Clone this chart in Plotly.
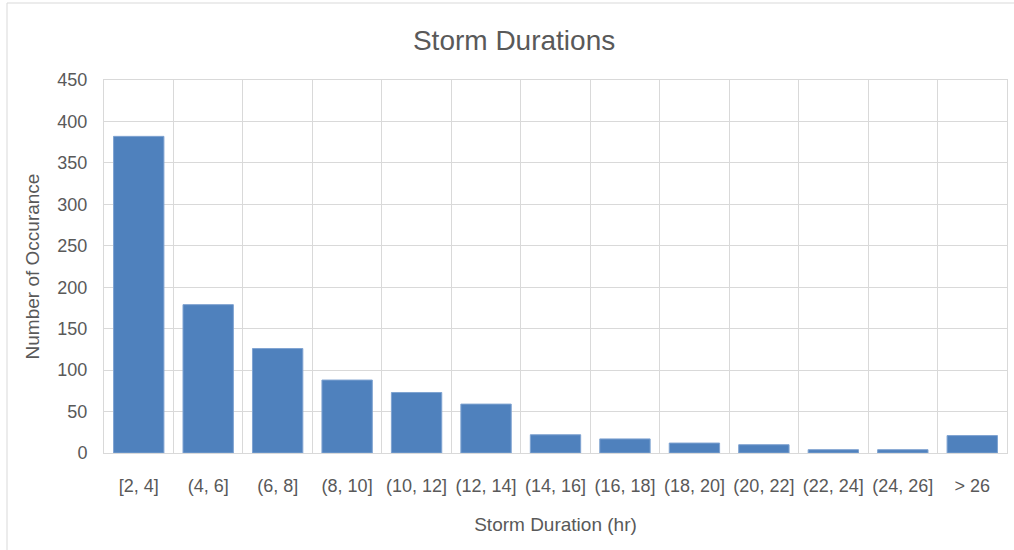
import plotly.graph_objects as go

categories = ["[2, 4]", "(4, 6]", "(6, 8]", "(8, 10]", "(10, 12]", "(12, 14]", "(14, 16]",
              "(16, 18]", "(18, 20]", "(20, 22]", "(22, 24]", "(24, 26]", "> 26"]
counts = [382, 179, 126, 88, 73, 59, 22, 17, 12, 10, 4, 4, 21]
y_ticks = [0, 50, 100, 150, 200, 250, 300, 350, 400, 450]

FONT = "Liberation Sans"
TEXT = "#595959"
GRID = "#d9d9d9"

fig = go.Figure(go.Bar(
    x=categories, y=counts,
    marker=dict(color="#4f81bd", line=dict(color="#7fa3d1", width=1)),
    hoverinfo="x+y",
))

fig.update_layout(
    width=1014, height=550,
    margin=dict(l=104, r=7, t=80, b=97),
    paper_bgcolor="white", plot_bgcolor="white",
    bargap=0.275,
    showlegend=False,
    font=dict(family=FONT, color=TEXT),
    title=dict(text="Storm Durations", x=0.507, xanchor="center", y=0.927, yanchor="middle",
               xref="container", font=dict(size=28, color=TEXT, family=FONT)),
    xaxis=dict(
        type="category", tickson="boundaries", ticks="",
        showgrid=True, gridcolor=GRID, gridwidth=1,
        showline=True, linecolor=GRID, linewidth=1, mirror=True,
        tickfont=dict(size=18, color=TEXT), ticklabelstandoff=16,
        title=dict(text="Storm Duration (hr)", font=dict(size=19, color=TEXT), standoff=23),
    ),
    yaxis=dict(
        range=[0, 450], tickvals=y_ticks, ticks="",
        showgrid=True, gridcolor=GRID, gridwidth=1, zeroline=False,
        showline=True, linecolor=GRID, linewidth=1, mirror=True,
        tickfont=dict(size=18, color=TEXT), ticklabelstandoff=12,
        title=dict(text="Number of Occurance", font=dict(size=19, color=TEXT), standoff=12),
    ),
    shapes=[
        dict(type="line", xref="paper", yref="paper", x0=(7-104)/903, x1=(1014-104)/903,
             y0=(453-3)/373, y1=(453-3)/373, line=dict(color="#d9d9d9", width=1)),
        dict(type="line", xref="paper", yref="paper", x0=(7-104)/903, x1=(7-104)/903,
             y0=(453-3)/373, y1=(453-550)/373, line=dict(color="#d9d9d9", width=1)),
    ],
)

fig.write_html("out.html", config={"displayModeBar": False},
               post_script="document.body.style.margin='0';document.body.style.overflow='hidden';")
